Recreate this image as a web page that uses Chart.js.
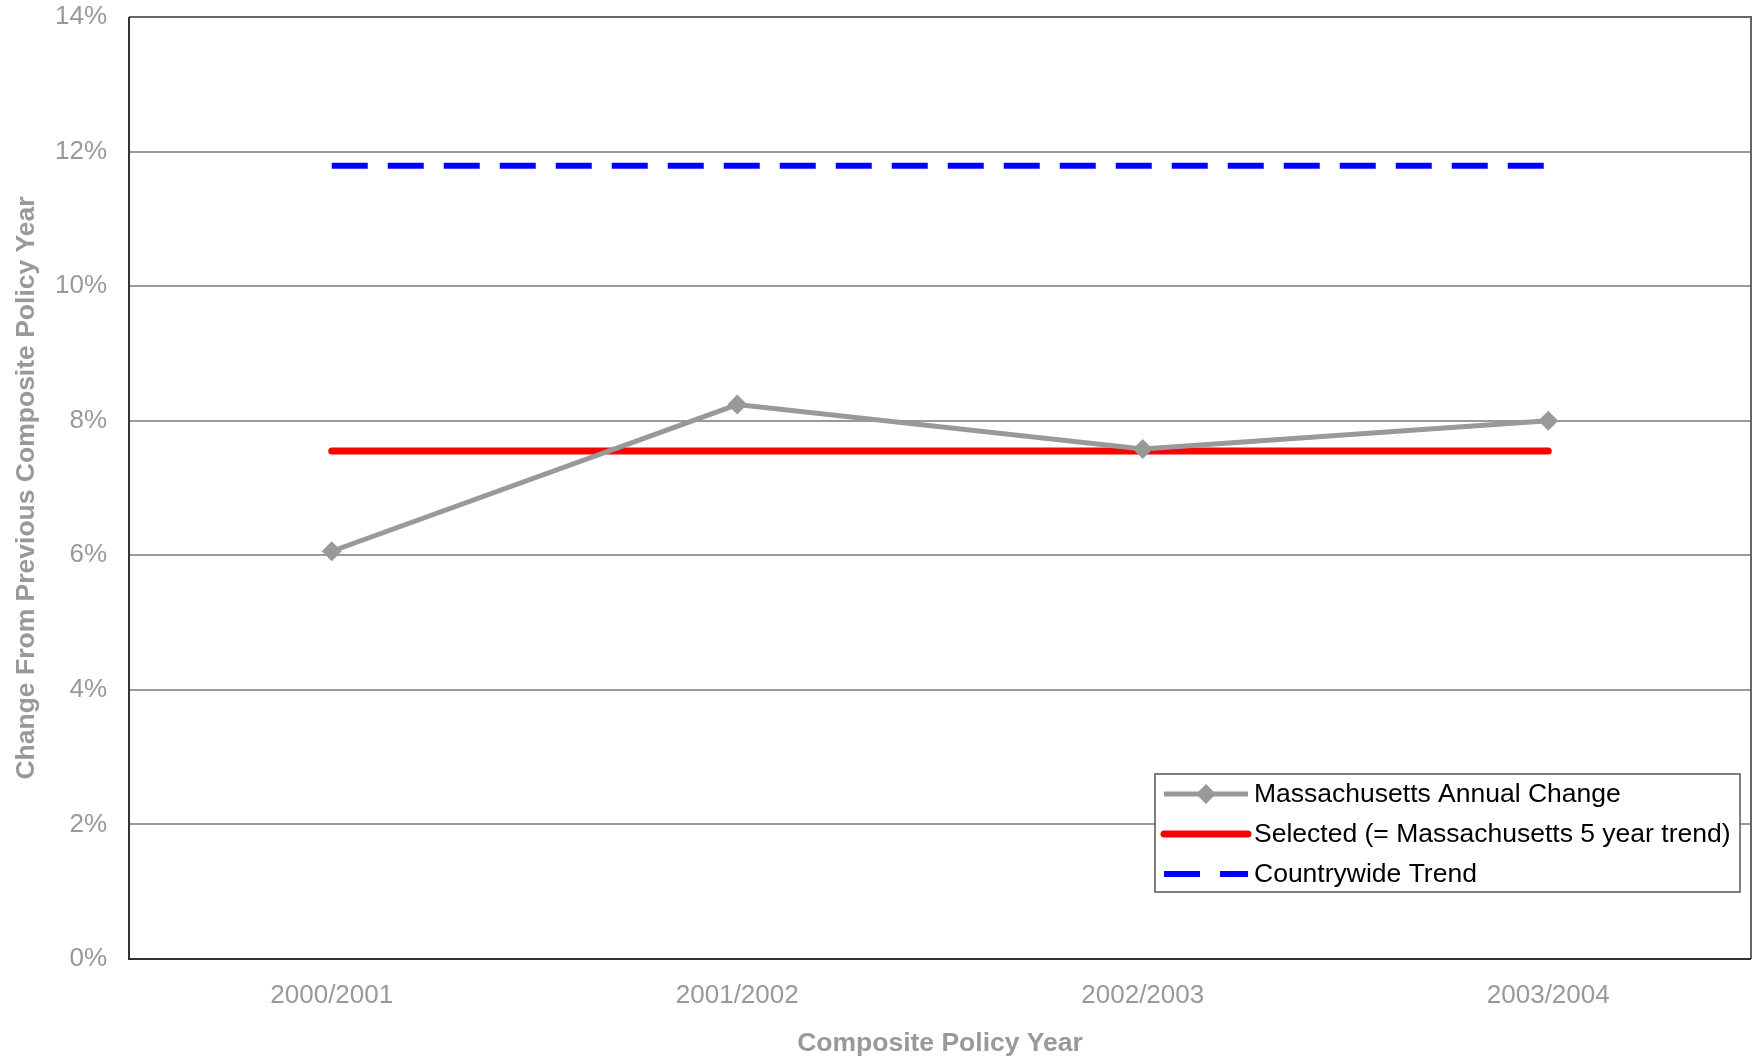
<!DOCTYPE html>
<html>
<head>
<meta charset="utf-8">
<script src="https://cdn.jsdelivr.net/npm/chart.js@4/dist/chart.umd.min.js"></script>
<style>
  html, body { margin: 0; padding: 0; background: #fff; overflow: hidden; }
  #wrap { width: 1754px; height: 1060px; position: relative; }
  canvas { display: block; }
</style>
</head>
<body>
<div id="wrap"><canvas id="trendChart"></canvas></div>
<script>
// Chart data
const policyYears = ['2000/2001', '2001/2002', '2002/2003', '2003/2004'];
const annualChange = [6.06, 8.24, 7.58, 8.00];
const selectedTrend = [7.55, 7.55, 7.55, 7.55];
const countrywideTrend = [11.79, 11.79, 11.79, 11.79];
const yTicks = [0, 2, 4, 6, 8, 10, 12, 14];
const seriesNames = ['Massachusetts Annual Change', 'Selected (= Massachusetts 5 year trend)', 'Countrywide Trend'];

const FONT = "'Liberation Sans', Arial, sans-serif";
const GRAY = '#999999';

// Legend box drawn inside the plot, bottom right
const insideLegend = {
  id: 'insideLegend',
  afterDraw(chart) {
    const ctx = chart.ctx;
    const area = chart.chartArea;
    const w = 585, h = 118;
    const x = area.right - 11 - w;
    const y = area.bottom - 67 - h;
    ctx.save();
    ctx.fillStyle = '#fff';
    ctx.fillRect(x, y, w, h);
    ctx.strokeStyle = '#555';
    ctx.lineWidth = 1.5;
    ctx.strokeRect(x, y, w, h);

    ctx.font = '26.5px ' + FONT;
    ctx.fillStyle = '#000';
    ctx.textBaseline = 'middle';
    const rows = [y + 20, y + 60, y + 100];
    const sx0 = x + 9, sx1 = x + 93;

    chart.data.datasets.forEach((ds, i) => {
      const ry = rows[i];
      ctx.beginPath();
      ctx.strokeStyle = ds.borderColor;
      ctx.lineWidth = ds.borderWidth;
      ctx.lineCap = ds.borderCapStyle || 'butt';
      ctx.setLineDash(ds.borderDash || []);
      ctx.moveTo(sx0, ry);
      ctx.lineTo(sx1, ry);
      ctx.stroke();
      ctx.setLineDash([]);
      if (ds.pointRadius > 0) {
        const cx = (sx0 + sx1) / 2, r = ds.pointRadius;
        ctx.beginPath();
        ctx.fillStyle = ds.pointBackgroundColor;
        ctx.moveTo(cx, ry - r);
        ctx.lineTo(cx + r, ry);
        ctx.lineTo(cx, ry + r);
        ctx.lineTo(cx - r, ry);
        ctx.closePath();
        ctx.fill();
      }
      ctx.fillStyle = '#000';
      ctx.fillText(ds.label, x + 99, ry + 1);
    });
    ctx.restore();
  }
};

// Darker frame round the plot area
const plotFrame = {
  id: 'plotFrame',
  afterDatasetsDraw(chart) {
    const ctx = chart.ctx;
    const a = chart.chartArea;
    ctx.save();
    ctx.lineWidth = 2;
    ctx.strokeStyle = '#666';
    ctx.beginPath();
    ctx.moveTo(a.left, a.top);
    ctx.lineTo(a.right, a.top);
    ctx.lineTo(a.right, a.bottom);
    ctx.stroke();
    ctx.strokeStyle = '#333';
    ctx.beginPath();
    ctx.moveTo(a.left, a.top);
    ctx.lineTo(a.left, a.bottom);
    ctx.lineTo(a.right, a.bottom);
    ctx.stroke();
    ctx.restore();
  }
};

const ctx = document.getElementById('trendChart').getContext('2d');
new Chart(ctx, {
  type: 'line',
  data: {
    labels: policyYears,
    datasets: [
      {
        label: seriesNames[0],
        data: annualChange,
        borderColor: GRAY,
        backgroundColor: GRAY,
        borderWidth: 5,
        pointStyle: 'rectRot',
        pointRadius: 10,
        pointBackgroundColor: GRAY,
        pointBorderColor: GRAY,
        pointBorderWidth: 0,
        tension: 0,
        order: 0
      },
      {
        label: seriesNames[1],
        data: selectedTrend,
        borderColor: '#ff0000',
        borderWidth: 7,
        borderCapStyle: 'round',
        pointRadius: 0,
        order: 1
      },
      {
        label: seriesNames[2],
        data: countrywideTrend,
        borderColor: '#0000ff',
        borderWidth: 6,
        borderDash: [36, 20],
        pointRadius: 0,
        order: 2
      }
    ]
  },
  options: {
    responsive: true,
    maintainAspectRatio: false,
    animation: false,
    layout: { autoPadding: false, padding: { top: 17, right: 3, left: 0, bottom: 0 } },
    plugins: {
      legend: { display: false },
      tooltip: { enabled: false }
    },
    scales: {
      x: {
        offset: true,
        grid: { display: false, drawTicks: false },
        border: { display: false },
        ticks: {
          color: GRAY,
          font: { family: FONT, size: 26 },
          padding: 21,
          maxRotation: 0
        },
        title: {
          display: true,
          text: 'Composite Policy Year',
          color: GRAY,
          font: { family: FONT, size: 26.5, weight: 'bold' },
          padding: { top: 12, bottom: 0 }
        },
        afterFit(scale) {
          scale.height = 101;
          scale.paddingLeft = 0;
          scale.paddingRight = 0;
        }
      },
      y: {
        min: 0,
        max: 14,
        afterBuildTicks(scale) {
          scale.ticks = yTicks.map(v => ({ value: v }));
        },
        grid: {
          color: GRAY,
          lineWidth: 2,
          drawTicks: false
        },
        border: { display: false },
        ticks: {
          color: GRAY,
          font: { family: FONT, size: 26 },
          padding: 22,
          callback: v => v + '%'
        },
        title: {
          display: true,
          text: 'Change From Previous Composite Policy Year',
          color: GRAY,
          font: { family: FONT, size: 26.5, weight: 'bold' },
          padding: { top: 11, bottom: 0 }
        },
        afterFit(scale) {
          scale.width = 129;
          scale.paddingTop = 0;
          scale.paddingBottom = 0;
        }
      }
    }
  },
  plugins: [plotFrame, insideLegend]
});
</script>
</body>
</html>
